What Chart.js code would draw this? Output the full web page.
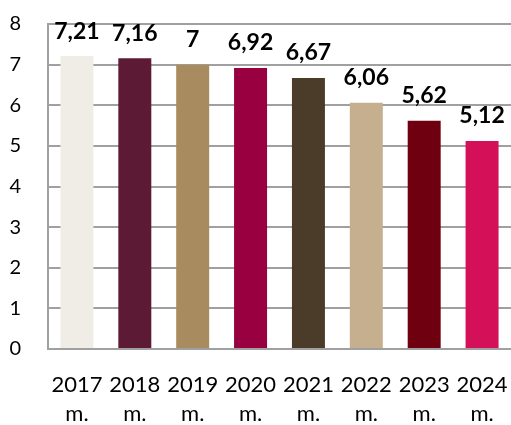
<!DOCTYPE html>
<html><head><meta charset="utf-8">
<script src="https://cdn.jsdelivr.net/npm/chart.js@4"></script>
<style>html,body{margin:0;padding:0;background:#fff;}#w{width:511px;height:425px;}</style>
</head><body><div id="w"><canvas id="c"></canvas></div>
<script>
const categories = [["2017","m."],["2018","m."],["2019","m."],["2020","m."],["2021","m."],["2022","m."],["2023","m."],["2024","m."]];
const values = [7.21, 7.16, 7.0, 6.92, 6.67, 6.06, 5.62, 5.12];
const valueLabels = ["7,21","7,16","7","6,92","6,67","6,06","5,62","5,12"];
const barColors = ["#F0EDE7","#5C1A35","#A88B5E","#990040","#4A3C28","#C6AF8F","#6E0010","#D31058"];
const yTicks = [0,1,2,3,4,5,6,7,8];

const FONT = 'Lato, "Open Sans", sans-serif';
const labelPlugin = {
  id: 'vl',
  afterDatasetsDraw(chart) {
    const ctx = chart.ctx;
    const meta = chart.getDatasetMeta(0);
    ctx.save();
    ctx.font = 'bold 23px ' + FONT;
    ctx.fillStyle = '#000';
    ctx.textAlign = 'center';
    ctx.textBaseline = 'middle';
    meta.data.forEach((b, i) => {
      ctx.fillText(valueLabels[i], b.x, b.y - 25);
    });
    ctx.restore();
  }
};

new Chart(document.getElementById('c'), {
  type: 'bar',
  data: { labels: categories, datasets: [{ data: values, backgroundColor: barColors, barPercentage: 0.57, categoryPercentage: 1 }] },
  options: {
    responsive: true, maintainAspectRatio: false, animation: false,
    layout: { padding: { top: 24, right: 0, left: 0, bottom: 0 } },
    plugins: { legend: { display: false }, tooltip: { enabled: false } },
    scales: {
      x: {
        afterFit(s) { s.height = 76; s.paddingLeft = 0; s.paddingRight = 0; },
        grid: { display: false, drawTicks: false },
        border: { color: '#A0A0A0', width: 2 },
        ticks: { color: '#000', font: { family: FONT, size: 22, lineHeight: 1.3 }, padding: 22, maxRotation: 0, autoSkip: false }
      },
      y: {
        min: 0, max: 8,
        afterBuildTicks(s) { s.ticks = yTicks.map(v => ({ value: v })); },
        afterFit(s) { s.width = 48; s.paddingTop = 0; s.paddingBottom = 0; },
        grid: { color: '#A0A0A0', lineWidth: 2, drawTicks: false },
        border: { color: '#A0A0A0', width: 2 },
        ticks: { color: '#000', font: { family: FONT, size: 20 }, padding: 27 }
      }
    }
  },
  plugins: [labelPlugin]
});
</script></body></html>
